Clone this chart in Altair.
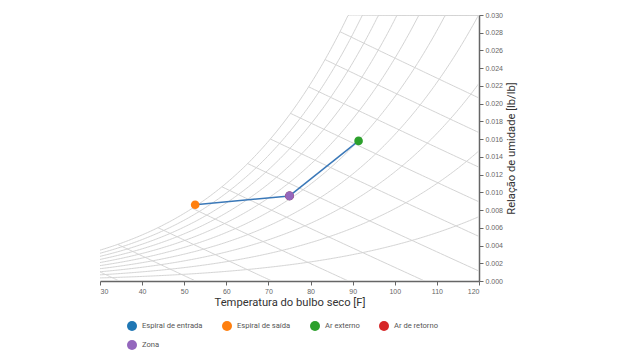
import math
import altair as alt
import pandas as pd

# ---- data ----
point_names = ["Espiral de entrada", "Espiral de saída", "Ar externo", "Ar de retorno", "Zona"]
point_temp = [75.0, 52.6, 91.4, 75.0, 75.0]          # dry-bulb [F]
point_w = [0.0096, 0.0086, 0.0158, 0.0096, 0.0096]   # humidity ratio [lb/lb]
point_colors = ["#1f77b4", "#ff7f0e", "#2ca02c", "#d62728", "#9467bd"]

# process lines: (from, to)
process_segments = [("Espiral de entrada", "Espiral de saída"), ("Ar de retorno", "Ar externo")]

rh_levels = [0.1, 0.2, 0.3, 0.4, 0.5, 0.6, 0.7, 0.8, 0.9, 1.0]
enthalpy_levels = [8.3, 12.65, 17.0, 21.35, 25.7, 30.05, 34.4, 38.75, 43.1, 47.45, 51.8]  # BTU/lb

x_ticks = [30, 40, 50, 60, 70, 80, 90, 100, 110, 120]
y_ticks = [0.000, 0.002, 0.004, 0.006, 0.008, 0.010, 0.012, 0.014, 0.016, 0.018,
           0.020, 0.022, 0.024, 0.026, 0.028, 0.030]
T_MIN, T_MAX, W_MAX = 30.0, 120.0, 0.030
P_ATM = 14.696

# ---- psychrometric construction lines ----
def pws(tf):
    T = tf + 459.67
    return math.exp(-1.0440397e4 / T - 1.1294650e1 - 2.7022355e-2 * T + 1.2890360e-5 * T ** 2
                    - 2.4780681e-9 * T ** 3 + 6.5459673 * math.log(T))

def w_rh(tf, phi):
    p = phi * pws(tf)
    return 0.621945 * p / (P_ATM - p)

def w_h(tf, h):
    return (h - 0.24 * tf) / (1061 + 0.444 * tf)

rows = []
steps = 240
for phi in rh_levels:
    for i in range(steps + 1):
        t = T_MIN + (T_MAX - T_MIN) * i / steps
        rows.append({"curve": f"rh{phi}", "i": i, "T": t, "W": min(w_rh(t, phi), W_MAX)})

for h in enthalpy_levels:
    if w_h(T_MIN, h) <= w_rh(T_MIN, 1.0):
        t0 = T_MIN
    else:
        lo, hi = T_MIN, T_MAX
        for _ in range(60):
            mid = (lo + hi) / 2
            if w_h(mid, h) > w_rh(mid, 1.0):
                lo = mid
            else:
                hi = mid
        t0 = hi
    t1 = min(T_MAX, h / 0.24)
    n = 60
    for i in range(n + 1):
        t = t0 + (t1 - t0) * i / n
        rows.append({"curve": f"h{h}", "i": i, "T": t, "W": max(w_h(t, h), 0.0)})

grid_df = pd.DataFrame(rows)

pts_df = pd.DataFrame({"name": point_names, "T": point_temp, "W": point_w,
                       "ord": list(range(len(point_names)))})
lookup = dict(zip(point_names, zip(point_temp, point_w)))
seg_rows = []
for k, (a, b) in enumerate(process_segments):
    for j, nm in enumerate((a, b)):
        seg_rows.append({"seg": k, "j": j, "T": lookup[nm][0], "W": lookup[nm][1]})
seg_df = pd.DataFrame(seg_rows)

FONT = "Roboto"
x_enc = alt.X("T:Q", scale=alt.Scale(domain=[T_MIN, T_MAX], nice=False, zero=False),
              axis=alt.Axis(values=x_ticks, title="Temperatura do bulbo seco [F]", grid=False,
                            labelFontSize=7, labelColor="#666", tickColor="#666", domainColor="#666",
                            domainWidth=1.5, tickSize=4, labelPadding=2,
                            titleFontSize=11.2, titleColor="#333", titleFontWeight="normal",
                            titleFont=FONT, labelFont="Liberation Sans", titlePadding=2))
y_enc = alt.Y("W:Q", scale=alt.Scale(domain=[0, W_MAX], nice=False),
              axis=alt.Axis(orient="right", values=y_ticks, format=".3f", grid=False,
                            title="Relação de umidade [lb/lb]",
                            labelFontSize=7, labelColor="#666", tickColor="#666", domainColor="#666",
                            domainWidth=1.5, tickSize=4, labelPadding=2,
                            titleFontSize=11.2, titleColor="#333", titleFontWeight="normal",
                            titleFont=FONT, labelFont="Liberation Sans", titleAngle=270,
                            titleBaseline="top", titlePadding=3))

grid = alt.Chart(grid_df).mark_line(clip=True, color="#d4d4d4", strokeWidth=1).encode(
    x=x_enc, y=y_enc, detail="curve:N", order="i:Q")

proc = alt.Chart(seg_df).mark_line(color="#3a78b8", strokeWidth=1.5).encode(
    x=x_enc, y=y_enc, detail="seg:N", order="j:Q")

points = alt.Chart(pts_df).mark_circle(size=75, opacity=1).encode(
    x=x_enc, y=y_enc, order="ord:Q",
    color=alt.Color("name:N", scale=alt.Scale(domain=point_names, range=point_colors),
                    legend=alt.Legend(title=None, orient="none", legendX=27, legendY=306,
                                      direction="horizontal", columns=4,
                                      symbolType="circle", symbolSize=100,
                                      labelFontSize=7.6, labelColor="#555", labelFont=FONT,
                                      columnPadding=19, rowPadding=9, padding=0,
                                      symbolStrokeWidth=0, labelOffset=5)))

chart = alt.layer(grid, proc, points).properties(
    width=379, height=266,
    autosize=alt.AutoSizeParams(type="none"),
    padding={"left": 92, "top": 7, "right": 100, "bottom": 70},
).configure_view(stroke=None)

chart.save("out.html", embed_options={"renderer": "svg", "actions": False})
